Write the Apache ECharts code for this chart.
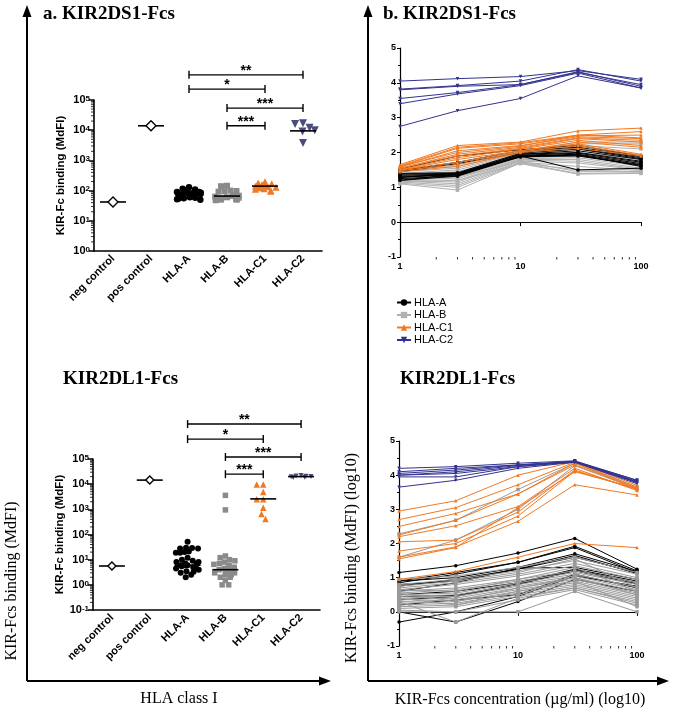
<!DOCTYPE html>
<html><head><meta charset="utf-8">
<script src="https://cdn.jsdelivr.net/npm/echarts@6/dist/echarts.min.js"></script>
<style>html,body{margin:0;padding:0;background:#fff}#c{width:675px;height:712px}</style>
</head><body><div id="c"></div>
<script>
// ---------- categories / ticks ----------
const categories = ['neg control', 'pos control', 'HLA-A', 'HLA-B', 'HLA-C1', 'HLA-C2'];
const concentrations = [1, 3, 10, 30, 100];
const minorMultipliers = [2, 3, 4, 5, 6, 7, 8, 9];

// ---------- panel a, KIR2DS1-Fcs (MdFI) ----------
const ds1Neg = [42];
const ds1Pos = [14000];
const ds1HlaA = [128, 115, 108, 100, 98, 95, 90, 90, 88, 85, 82, 80, 80, 78, 77, 76, 74, 72, 70, 70, 68, 65, 64, 62, 60, 58, 56, 55, 52, 50];
const ds1HlaB = [145, 140, 100, 97, 95, 92, 70, 68, 66, 65, 63, 60, 58, 55, 52, 50, 50, 48];
const ds1HlaC1 = [195, 180, 170, 160, 155, 150, 145, 142, 140, 135, 130, 125, 115, 110, 100, 95];
const ds1HlaC2 = [17000, 16000, 12000, 10000, 9000, 3800];
const ds1Medians = [42, 14000, 77, 66, 141, 9500];
const ds1BracketStart = [1.75, 1.75, 2.85, 2.85];
const ds1BracketEnd = [5, 3.85, 5, 3.85];
const ds1BracketLevel = [680000, 230000, 54000, 14000];
const ds1BracketLabel = ['**', '*', '***', '***'];

// ---------- panel a, KIR2DL1-Fcs (MdFI) ----------
const dl1Neg = [5.6];
const dl1Pos = [14500];
const dl1HlaA = [51, 30, 29, 28, 28, 21, 20, 19, 19, 12, 10, 9, 8, 8, 7, 7, 6, 6, 6, 5.5, 5, 5, 4.5, 4, 3.5, 3.3, 3, 2.5, 2];
const dl1HlaB = [3600, 950, 14, 12, 10, 9, 8, 7, 6.5, 6, 5, 5, 4.5, 4, 4, 4, 3.5, 3, 3, 2.5, 2.5, 2, 2, 1.5, 1, 1];
const dl1HlaC1 = [9800, 9800, 4900, 2500, 2500, 1150, 650, 410];
const dl1HlaC2 = [22000, 21000, 20500, 20000, 19500, 19000, 18500];
const dl1Medians = [5.6, 14500, 6, 4, 2600, 20000];
const dl1BracketStart = [1.76, 1.76, 2.9, 2.9];
const dl1BracketEnd = [5, 3.9, 5.03, 3.9];
const dl1BracketLevel = [2450000, 617000, 120000, 25000];
const dl1BracketLabel = ['**', '*', '***', '***'];

// ---------- panel b, KIR2DS1-Fcs, log10 MdFI per concentration ----------
const ds1LinesA = [
  [1.52, 1.9, 2.08, 2.2, 1.9], [1.48, 1.72, 2.05, 2.15, 1.88], [1.45, 1.68, 2.0, 2.12, 1.85],
  [1.4, 1.42, 1.98, 2.1, 1.82], [1.38, 1.4, 1.95, 2.05, 1.8], [1.35, 1.38, 1.95, 2.0, 1.75],
  [1.32, 1.36, 1.92, 1.98, 1.72], [1.3, 1.35, 1.9, 1.95, 1.68], [1.25, 1.33, 1.9, 1.92, 1.65],
  [1.2, 1.32, 1.88, 1.9, 1.63], [1.2, 1.38, 1.9, 1.5, 1.55], [1.28, 1.4, 1.87, 1.94, 1.6]
];
const ds1LinesB = [
  [1.5, 1.6, 2.0, 2.3, 2.3], [1.45, 1.55, 1.98, 2.25, 2.25], [1.4, 1.5, 1.95, 2.2, 2.1],
  [1.38, 1.45, 1.92, 2.1, 1.9], [1.35, 1.4, 1.9, 2.0, 1.8], [1.3, 1.35, 1.88, 1.95, 1.7],
  [1.28, 1.3, 1.85, 1.9, 1.65], [1.25, 1.25, 1.82, 1.85, 1.6], [1.22, 1.2, 1.8, 1.8, 1.55],
  [1.2, 1.15, 1.78, 1.75, 1.52], [1.18, 1.1, 1.75, 1.7, 1.5], [1.15, 1.05, 1.72, 1.6, 1.48],
  [1.12, 1.0, 1.7, 1.5, 1.45], [1.1, 0.92, 1.7, 1.4, 1.42], [1.15, 1.2, 1.68, 1.38, 1.4],
  [1.2, 1.3, 1.75, 1.45, 1.45]
];
const ds1LinesC1 = [
  [1.65, 2.2, 2.3, 2.62, 2.7], [1.62, 2.15, 2.28, 2.5, 2.6], [1.6, 2.12, 2.25, 2.48, 2.5],
  [1.58, 2.05, 2.2, 2.45, 2.4], [1.55, 1.95, 2.15, 2.42, 2.35], [1.55, 1.9, 2.12, 2.4, 2.3],
  [1.52, 1.85, 2.1, 2.35, 2.2], [1.5, 1.8, 2.05, 2.3, 2.15], [1.5, 1.72, 2.05, 2.25, 1.95],
  [1.48, 1.65, 2.02, 2.2, 1.92], [1.45, 1.6, 2.0, 2.12, 1.9], [1.6, 2.0, 2.18, 2.5, 2.42]
];
const ds1LinesC2 = [
  [4.05, 4.12, 4.18, 4.35, 4.1], [3.82, 3.92, 4.05, 4.38, 4.05], [3.8, 3.9, 3.95, 4.3, 3.95],
  [3.55, 3.72, 3.95, 4.32, 3.9], [3.4, 3.68, 3.92, 4.28, 3.85], [2.75, 3.2, 3.55, 4.2, 3.85]
];

// ---------- panel b, KIR2DL1-Fcs, log10 MdFI per concentration ----------
const dl1LinesA = [
  [1.15, 1.35, 1.72, 2.15, 1.25], [0.9, 1.15, 1.45, 1.92, 1.2], [0.85, 1.1, 1.45, 1.88, 1.15],
  [0.9, 1.0, 1.3, 1.7, 1.18], [0.75, 0.95, 1.25, 1.65, 1.12], [0.6, 0.85, 1.28, 1.3, 0.95],
  [0.5, 0.6, 0.85, 1.25, 0.9], [0.45, 0.48, 0.82, 1.22, 0.85], [0.35, 0.45, 0.8, 1.2, 0.82],
  [0.2, 0.35, 0.5, 1.1, 0.7], [0.0, -0.3, 0.3, 0.95, 0.6], [-0.3, 0.0, 0.45, 1.05, 0.75],
  [0.8, 0.9, 1.25, 1.6, 1.15]
];
const dl1LinesB = [
  [0.95, 1.05, 1.3, 1.6, 1.15], [0.8, 0.95, 1.2, 1.5, 1.1], [0.7, 0.85, 1.1, 1.42, 1.0],
  [0.65, 0.8, 1.05, 1.35, 0.95], [0.6, 0.7, 0.95, 1.2, 0.85], [0.55, 0.65, 0.9, 1.15, 0.8],
  [0.5, 0.55, 0.85, 1.1, 0.72], [0.45, 0.5, 0.8, 1.05, 0.65], [0.4, 0.45, 0.75, 1.0, 0.6],
  [0.35, 0.4, 0.7, 0.95, 0.55], [0.3, 0.35, 0.65, 0.9, 0.5], [0.25, 0.3, 0.6, 0.85, 0.45],
  [0.2, 0.25, 0.55, 0.8, 0.4], [0.15, 0.2, 0.5, 0.75, 0.35], [0.1, 0.15, 0.45, 0.7, 0.3],
  [0.05, 0.0, 0.35, 0.65, 0.2], [0.0, 0.0, 0.0, 0.6, 0.0], [0.3, -0.3, 0.4, 0.7, 0.25],
  [0.4, 0.2, 0.6, 0.9, 0.15], [0.55, 0.3, 0.7, 1.0, 0.5], [0.65, 0.6, 0.95, 1.3, 0.6],
  [0.75, 0.9, 1.15, 1.55, 0.7], [2.28, 2.68, 3.58, 4.35, 3.65], [1.6, 2.1, 3.0, 4.28, 3.6]
];
const dl1LinesC1 = [
  [2.95, 3.25, 4.0, 4.4, 3.7], [2.7, 3.05, 3.72, 4.38, 3.65], [2.5, 2.88, 3.45, 4.35, 3.6],
  [2.25, 2.68, 3.45, 4.3, 3.62], [2.2, 2.52, 3.08, 4.2, 3.55], [2.05, 2.1, 2.92, 4.15, 3.58],
  [1.78, 2.0, 2.8, 4.12, 3.6], [1.6, 1.9, 2.65, 3.72, 3.42], [1.55, 1.88, 3.05, 4.1, 3.62],
  [0.95, 1.18, 1.6, 2.0, 1.88]
];
const dl1LinesC2 = [
  [4.2, 4.25, 4.35, 4.42, 3.85], [4.1, 4.2, 4.3, 4.4, 3.85], [4.05, 4.15, 4.3, 4.4, 3.82],
  [4.0, 4.1, 4.28, 4.4, 3.8], [4.0, 4.05, 4.25, 4.38, 3.8], [3.95, 3.95, 4.25, 4.4, 3.78],
  [3.65, 3.85, 4.2, 4.38, 3.75]
];

// ---------- styling ----------
const SERIF = '"Liberation Serif", "Times New Roman", serif';
const SANS = '"Liberation Sans", Arial, sans-serif';
const BLACK = '#000000', GRAY_T = '#b0b0b0', GRAY_B = '#9a9a9a', ORANGE = '#f07a24', BLUE = '#33338f';

function logMinorValues(minExp, maxExp) {
  const out = [];
  for (let e = minExp; e < maxExp; e++) for (const m of minorMultipliers) out.push(m * Math.pow(10, e));
  return out;
}

function supLabel(v) {
  const e = Math.round(Math.log10(v));
  return '10{s|' + e + '}';
}

function catAxis(gi) {
  return {
    type: 'category', gridIndex: gi, data: categories,
    jitter: 24, jitterOverlap: false, jitterMargin: 0,
    axisLine: { lineStyle: { color: BLACK, width: 1.6 } },
    axisTick: { alignWithLabel: true, length: 5, lineStyle: { color: BLACK, width: 1.5 } },
    axisLabel: { interval: 0, rotate: 45, margin: 6, color: BLACK, fontWeight: 'bold', fontSize: 11, fontFamily: SANS },
    splitLine: { show: false }
  };
}
function logYAxis(gi, min, max, split) {
  return {
    type: 'log', gridIndex: gi, logBase: 10, min, max, splitNumber: split,
    name: 'KIR-Fc binding (MdFI)', nameLocation: 'middle', nameGap: 27,
    nameTextStyle: { color: BLACK, fontWeight: 'bold', fontSize: 11.5, fontFamily: SANS },
    axisLine: { show: true, lineStyle: { color: BLACK, width: 1.6 } },
    axisTick: { show: true, length: 5, lineStyle: { color: BLACK, width: 1.5 } },
    axisLabel: {
      margin: 4, color: BLACK, fontWeight: 'bold', fontSize: 11, fontFamily: SANS,
      formatter: supLabel,
      rich: { s: { fontSize: 8, fontWeight: 'bold', fontFamily: SANS, verticalAlign: 'top', color: BLACK } }
    },
    splitLine: { show: false }
  };
}
function concAxis(gi) {
  return {
    type: 'log', gridIndex: gi, logBase: 10, min: 1, max: 100, splitNumber: 2,
    axisLine: { lineStyle: { color: BLACK, width: 1.2 } },
    axisTick: { length: 4, lineStyle: { color: BLACK, width: 1 } },
    axisLabel: { margin: 5, color: BLACK, fontWeight: 'bold', fontSize: 9, fontFamily: SANS },
    splitLine: { show: false }
  };
}
function bindAxis(gi) {
  return {
    type: 'value', gridIndex: gi, min: -1, max: 5, interval: 1,
    axisLine: { show: true, lineStyle: { color: BLACK, width: 1.2 } },
    axisTick: { show: true, length: 3, lineStyle: { color: BLACK, width: 1 } },
    minorTick: { show: true, splitNumber: 2, length: 2, lineStyle: { color: BLACK, width: 1 } },
    axisLabel: { margin: 4, color: BLACK, fontWeight: 'bold', fontSize: 9, fontFamily: SANS },
    splitLine: { show: false }
  };
}

function dots(vals, cat, color, symbol, size, axis, rotate) {
  return {
    type: 'scatter', name: 'dots' + axis + cat, xAxisIndex: axis, yAxisIndex: axis,
    data: vals.map(v => [cat, v]), symbol, symbolSize: size, symbolRotate: rotate || 0,
    itemStyle: { color, opacity: 1 }, silent: true, z: 3
  };
}
function controls(vals, cat, axis, size) {
  return {
    type: 'scatter', name: 'ctrl' + axis + cat, xAxisIndex: axis, yAxisIndex: axis,
    data: vals.map(v => [cat, v]), symbol: 'diamond', symbolSize: size,
    itemStyle: { color: '#ffffff', borderColor: BLACK, borderWidth: 1.4, opacity: 1 }, silent: true, z: 6
  };
}
function medianSeries(meds, axis) {
  return {
    type: 'custom', xAxisIndex: axis, yAxisIndex: axis, silent: true, z: 5,
    data: meds.map((m, i) => [i, m]), encode: { x: 0, y: 1 },
    renderItem: (p, api) => {
      const c = api.coord([api.value(0), api.value(1)]);
      return { type: 'line', shape: { x1: c[0] - 13, y1: c[1], x2: c[0] + 13, y2: c[1] }, style: { stroke: BLACK, lineWidth: 1.6 } };
    }
  };
}
function bracketSeries(starts, ends, levels, labels, axis) {
  return {
    type: 'custom', xAxisIndex: axis, yAxisIndex: axis, silent: true, z: 5, clip: false,
    data: starts.map((s, i) => [s, ends[i], levels[i]]), encode: { x: 0, y: 2 },
    renderItem: (p, api) => {
      const a = api.coord([api.value(0), api.value(2)]);
      const b = api.coord([api.value(1), api.value(2)]);
      const st = { stroke: BLACK, lineWidth: 1.4 };
      return {
        type: 'group', children: [
          { type: 'line', shape: { x1: a[0], y1: a[1], x2: b[0], y2: a[1] }, style: st },
          { type: 'line', shape: { x1: a[0], y1: a[1] - 4, x2: a[0], y2: a[1] + 4 }, style: st },
          { type: 'line', shape: { x1: b[0], y1: a[1] - 4, x2: b[0], y2: a[1] + 4 }, style: st },
          { type: 'text', x: (a[0] + b[0]) / 2, y: a[1] + 3,
            style: { text: labels[p.dataIndex], fill: BLACK, font: 'bold 14px ' + SANS, align: 'center', verticalAlign: 'bottom' } }
        ]
      };
    }
  };
}
function yMinorTicks(minExp, maxExp, axis) {
  return {
    type: 'custom', xAxisIndex: axis, yAxisIndex: axis, silent: true, z: 2,
    data: logMinorValues(minExp, maxExp).map(v => [0, v]), encode: { x: 0, y: 1 },
    renderItem: (p, api) => {
      const c = api.coord([0, api.value(1)]);
      const x = p.coordSys.x;
      return { type: 'line', shape: { x1: x - 3, y1: c[1], x2: x, y2: c[1] }, style: { stroke: BLACK, lineWidth: 0.8 } };
    }
  };
}
function xMinorTicks(axis) {
  return {
    type: 'custom', xAxisIndex: axis, yAxisIndex: axis, silent: true, z: 2,
    data: logMinorValues(0, 2).map(v => [v, 0]), encode: { x: 0, y: 1 },
    renderItem: (p, api) => {
      const c = api.coord([api.value(0), 0]);
      const y = p.coordSys.y + p.coordSys.height;
      return { type: 'line', shape: { x1: c[0], y1: y, x2: c[0], y2: y + 2.5 }, style: { stroke: BLACK, lineWidth: 0.8 } };
    }
  };
}
function linesSeries(rows, name, color, symbol, rotate, axis, z) {
  return rows.map(r => ({
    type: 'line', name, xAxisIndex: axis, yAxisIndex: axis,
    data: concentrations.map((c, i) => [c, r[i]]),
    symbol, symbolSize: 3.5, symbolRotate: rotate, showSymbol: true,
    lineStyle: { color, width: 1 }, itemStyle: { color }, silent: true, z
  }));
}

const series = [].concat(
  // panel a top
  [yMinorTicks(0, 5, 0), medianSeries(ds1Medians, 0), bracketSeries(ds1BracketStart, ds1BracketEnd, ds1BracketLevel, ds1BracketLabel, 0),
   controls(ds1Neg, 'neg control', 0, 10), controls(ds1Pos, 'pos control', 0, 10),
   dots(ds1HlaA, 'HLA-A', BLACK, 'circle', 6.5, 0), dots(ds1HlaB, 'HLA-B', '#8a8a8a', 'rect', 6, 0),
   dots(ds1HlaC1, 'HLA-C1', ORANGE, 'triangle', 7, 0), dots(ds1HlaC2, 'HLA-C2', '#4b4b7d', 'triangle', 8, 0, 180)],
  // panel a bottom
  [yMinorTicks(-1, 5, 1), medianSeries(dl1Medians, 1), bracketSeries(dl1BracketStart, dl1BracketEnd, dl1BracketLevel, dl1BracketLabel, 1),
   controls(dl1Neg, 'neg control', 1, 8), controls(dl1Pos, 'pos control', 1, 8),
   dots(dl1HlaA, 'HLA-A', BLACK, 'circle', 6, 1), dots(dl1HlaB, 'HLA-B', '#8a8a8a', 'rect', 5.5, 1),
   dots(dl1HlaC1, 'HLA-C1', ORANGE, 'triangle', 6.5, 1), dots(dl1HlaC2, 'HLA-C2', '#4b4b7d', 'triangle', 5, 1, 180)],
  // panel b top
  [xMinorTicks(2)],
  linesSeries(ds1LinesB, 'HLA-B', GRAY_T, 'rect', 0, 2, 2),
  linesSeries(ds1LinesA, 'HLA-A', BLACK, 'circle', 0, 2, 3),
  linesSeries(ds1LinesC1, 'HLA-C1', ORANGE, 'triangle', 0, 2, 4),
  linesSeries(ds1LinesC2, 'HLA-C2', BLUE, 'triangle', 180, 2, 5),
  // panel b bottom
  [xMinorTicks(3)],
  linesSeries(dl1LinesA, 'HLA-A', BLACK, 'circle', 0, 3, 2),
  linesSeries(dl1LinesB, 'HLA-B', GRAY_B, 'rect', 0, 3, 3),
  linesSeries(dl1LinesC1, 'HLA-C1', ORANGE, 'triangle', 0, 3, 4),
  linesSeries(dl1LinesC2, 'HLA-C2', BLUE, 'triangle', 180, 3, 5)
);

const arrowStyle = { stroke: BLACK, lineWidth: 2 };
const graphic = [
  { type: 'line', shape: { x1: 27, y1: 681, x2: 27, y2: 14 }, style: arrowStyle },
  { type: 'polygon', shape: { points: [[27, 5], [22.5, 17], [31.5, 17]] }, style: { fill: BLACK } },
  { type: 'line', shape: { x1: 27, y1: 681, x2: 322, y2: 681 }, style: arrowStyle },
  { type: 'polygon', shape: { points: [[331, 681], [319, 676.5], [319, 685.5]] }, style: { fill: BLACK } },
  { type: 'line', shape: { x1: 368, y1: 681, x2: 368, y2: 14 }, style: arrowStyle },
  { type: 'polygon', shape: { points: [[368, 5], [363.5, 17], [372.5, 17]] }, style: { fill: BLACK } },
  { type: 'line', shape: { x1: 368, y1: 681, x2: 660, y2: 681 }, style: arrowStyle },
  { type: 'polygon', shape: { points: [[669, 681], [657, 676.5], [657, 685.5]] }, style: { fill: BLACK } },
  { type: 'text', x: 43, y: 14, style: { text: 'a. KIR2DS1-Fcs', font: 'bold 19px ' + SERIF, fill: BLACK, verticalAlign: 'middle' } },
  { type: 'text', x: 383, y: 14, style: { text: 'b. KIR2DS1-Fcs', font: 'bold 19px ' + SERIF, fill: BLACK, verticalAlign: 'middle' } },
  { type: 'text', x: 63, y: 379, style: { text: 'KIR2DL1-Fcs', font: 'bold 19px ' + SERIF, fill: BLACK, verticalAlign: 'middle' } },
  { type: 'text', x: 400, y: 379, style: { text: 'KIR2DL1-Fcs', font: 'bold 19px ' + SERIF, fill: BLACK, verticalAlign: 'middle' } },
  { type: 'text', x: 179, y: 699, style: { text: 'HLA class I', font: '16px ' + SERIF, fill: BLACK, align: 'center', verticalAlign: 'middle' } },
  { type: 'text', x: 520, y: 700, style: { text: 'KIR-Fcs concentration (\u00b5g/ml) (log10)', font: '16px ' + SERIF, fill: BLACK, align: 'center', verticalAlign: 'middle' } },
  { type: 'text', x: 12, y: 581, rotation: Math.PI / 2, style: { text: 'KIR-Fcs binding (MdFI)', font: '16px ' + SERIF, fill: BLACK, align: 'center', verticalAlign: 'middle' } },
  { type: 'text', x: 352, y: 558, rotation: Math.PI / 2, style: { text: 'KIR-Fcs binding (MdFI) (log10)', font: '16px ' + SERIF, fill: BLACK, align: 'center', verticalAlign: 'middle' } }
];

const chart = echarts.init(document.getElementById('c'), null, { renderer: 'canvas' });
chart.setOption({
  animation: false,
  backgroundColor: '#ffffff',
  textStyle: { fontFamily: SANS },
  grid: [
    { left: 94, top: 100, width: 228, height: 151, outerBoundsMode: 'none' },
    { left: 93, top: 459, width: 227, height: 151, outerBoundsMode: 'none' },
    { left: 400, top: 48, width: 241, height: 209, outerBoundsMode: 'none' },
    { left: 399, top: 441, width: 238, height: 205, outerBoundsMode: 'none' }
  ],
  xAxis: [catAxis(0), catAxis(1), concAxis(2), concAxis(3)],
  yAxis: [logYAxis(0, 1, 100000, 5), logYAxis(1, 0.1, 100000, 6), bindAxis(2), bindAxis(3)],
  legend: {
    data: ['HLA-A', 'HLA-B', 'HLA-C1', 'HLA-C2'], orient: 'vertical', left: 396, top: 297,
    itemWidth: 14, itemHeight: 8, itemGap: 1.5, padding: 0, selectedMode: false,
    textStyle: { fontSize: 11, fontFamily: SANS, color: BLACK, padding: [0, 0, 0, -2] }
  },
  graphic,
  series
});
</script>
</body></html>
